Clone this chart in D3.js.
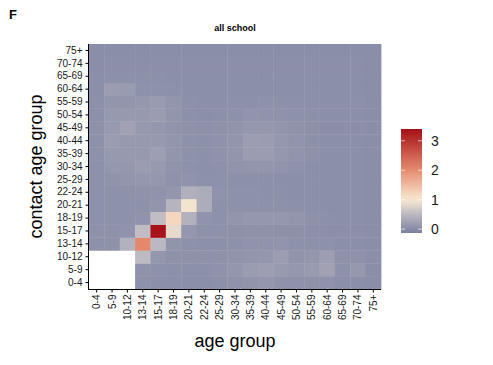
<!DOCTYPE html>
<html lang="en">
<head>
<meta charset="utf-8">
<script src="https://d3js.org/d3.v7.min.js"></script>
<style>
  body { margin: 0; background: #fff; }
  svg text { font-family: "Liberation Sans", Arial, sans-serif; }
</style>
</head>
<body>
<svg id="vis" width="493" height="365"></svg>
<script>
    // age groups (same for both axes)
    const ageGroups = ["0-4","5-9","10-12","13-14","15-17","18-19","20-21","22-24","25-29","30-34",
                       "35-39","40-44","45-49","50-54","55-59","60-64","65-69","70-74","75+"];

    // one row per contact age group (0-4 first), columns = participant age group
    const contactRows = [
        [null,null,null,0.06,0.04,0.04,0.04,0.04,0.05,0.07,0.10,0.12,0.07,0.07,0.06,0.07,0.04,0.04,0.03],
        [null,null,null,0.07,0.06,0.05,0.05,0.05,0.07,0.12,0.18,0.21,0.16,0.13,0.16,0.24,0.06,0.14,0.03],
        [null,null,null,0.52,0.12,0.06,0.06,0.06,0.06,0.09,0.11,0.12,0.20,0.10,0.12,0.21,0.06,0.06,0.03],
        [0.06,0.06,0.42,2.05,0.50,0.10,0.06,0.05,0.05,0.06,0.08,0.08,0.09,0.06,0.05,0.06,0.04,0.04,0.03],
        [0.06,0.06,0.08,0.55,3.35,0.85,0.12,0.06,0.06,0.05,0.06,0.06,0.05,0.05,0.04,0.04,0.04,0.04,0.03],
        [0.06,0.06,0.06,0.08,0.55,1.20,0.42,0.08,0.06,0.11,0.13,0.13,0.13,0.11,0.06,0.05,0.04,0.04,0.03],
        [0.06,0.06,0.06,0.06,0.11,0.45,0.95,0.36,0.06,0.06,0.06,0.06,0.06,0.05,0.04,0.04,0.04,0.04,0.03],
        [0.06,0.06,0.06,0.07,0.08,0.12,0.40,0.36,0.08,0.06,0.06,0.05,0.05,0.04,0.04,0.04,0.04,0.04,0.03],
        [0.06,0.08,0.11,0.13,0.13,0.07,0.08,0.06,0.06,0.05,0.05,0.05,0.04,0.04,0.04,0.04,0.04,0.04,0.03],
        [0.06,0.13,0.13,0.19,0.15,0.08,0.06,0.05,0.06,0.09,0.11,0.11,0.09,0.06,0.04,0.04,0.04,0.04,0.03],
        [0.06,0.15,0.15,0.15,0.21,0.11,0.06,0.05,0.07,0.11,0.19,0.19,0.13,0.09,0.06,0.04,0.04,0.04,0.03],
        [0.06,0.19,0.15,0.15,0.15,0.11,0.06,0.05,0.07,0.11,0.20,0.19,0.13,0.09,0.05,0.04,0.04,0.04,0.03],
        [0.06,0.15,0.24,0.15,0.13,0.08,0.06,0.05,0.06,0.09,0.13,0.13,0.11,0.07,0.05,0.04,0.04,0.04,0.03],
        [0.05,0.15,0.15,0.15,0.19,0.11,0.05,0.04,0.05,0.06,0.09,0.08,0.07,0.06,0.05,0.04,0.04,0.04,0.03],
        [0.05,0.11,0.11,0.13,0.17,0.11,0.05,0.04,0.04,0.05,0.05,0.06,0.05,0.05,0.04,0.04,0.04,0.05,0.03],
        [0.04,0.19,0.17,0.06,0.06,0.05,0.04,0.04,0.04,0.04,0.04,0.04,0.04,0.04,0.04,0.04,0.04,0.04,0.03],
        [0.04,0.05,0.05,0.05,0.05,0.04,0.04,0.04,0.04,0.04,0.04,0.04,0.04,0.04,0.04,0.04,0.04,0.04,0.03],
        [0.03,0.04,0.04,0.04,0.04,0.04,0.04,0.04,0.04,0.04,0.04,0.04,0.04,0.04,0.04,0.04,0.04,0.04,0.03],
        [0.03,0.03,0.03,0.03,0.03,0.03,0.03,0.03,0.03,0.03,0.03,0.03,0.03,0.03,0.03,0.03,0.03,0.03,0.03]
    ];

    const legendTicks = [0, 1, 2, 3];
    const colorStops  = [-0.13, 0.5, 1.0, 2.0, 3.4];
    const colorRange  = ["#7b80a0", "#bbb8c1", "#f9e9d2", "#e58c70", "#a50f15"];

    const svg = d3.select("#vis");

    const pLeft = 89, pRight = 381, pTop = 44, pBottom = 289;

    const x = d3.scaleBand().domain(ageGroups).range([pLeft, pRight]).padding(0);
    const y = d3.scaleBand().domain(ageGroups).range([pBottom, pTop]).padding(0);
    const color = d3.scaleLinear().domain(colorStops).range(colorRange).clamp(true);

    // tiles
    let cells = [];
    contactRows.forEach((row, j) => {
        row.forEach((v, i) => {
            cells.push({ age: ageGroups[i], contact: ageGroups[j], value: v });
        });
    });

    svg.append("g")
        .selectAll("rect")
        .data(cells.filter(d => d.value !== null))
        .enter()
        .append("rect")
        .attr("x", d => x(d.age))
        .attr("y", d => y(d.contact))
        .attr("width", x.bandwidth() + 0.4)
        .attr("height", y.bandwidth() + 0.4)
        .attr("fill", d => color(d.value));

    // axes
    const xAxis = svg.append("g")
        .attr("transform", "translate(0," + (pBottom + 0.5) + ")")
        .call(d3.axisBottom(x).tickSize(3).tickSizeOuter(0));
    xAxis.select(".domain").attr("d", "M" + (pLeft - 1) + ",0H" + pRight);
    xAxis.selectAll("text")
        .attr("transform", "rotate(-90)")
        .attr("x", -5).attr("y", 0).attr("dy", "0.35em")
        .style("text-anchor", "end")
        .style("font-size", "10px")
        .attr("fill", "#1a1a1a");

    const yAxis = svg.append("g")
        .attr("transform", "translate(" + (pLeft - 0.5) + ",0)")
        .call(d3.axisLeft(y).tickSize(3).tickSizeOuter(0));
    yAxis.select(".domain").attr("d", "M0," + pTop + "V" + (pBottom + 1));
    yAxis.selectAll("text")
        .attr("x", -6)
        .style("font-size", "10px")
        .attr("fill", "#1a1a1a");

    // titles
    svg.append("text").attr("x", 9).attr("y", 19)
        .style("font-size", "13px").style("font-weight", "bold").text("F");

    svg.append("text").attr("x", (pLeft + pRight) / 2).attr("y", 31)
        .attr("text-anchor", "middle")
        .style("font-size", "9px").style("font-weight", "bold").text("all school");

    svg.append("text").attr("x", (pLeft + pRight) / 2).attr("y", 347)
        .attr("text-anchor", "middle")
        .style("font-size", "18px").text("age group");

    svg.append("text")
        .attr("transform", "translate(42," + ((pTop + pBottom) / 2) + ") rotate(-90)")
        .attr("text-anchor", "middle")
        .style("font-size", "18px").text("contact age group");

    // legend colour bar
    const lx = 401, lw = 21, ltop = 129, lbot = 233;
    const ly = d3.scaleLinear().domain([colorStops[0], colorStops[colorStops.length - 1]]).range([lbot, ltop]);

    const grad = svg.append("defs").append("linearGradient")
        .attr("id", "lg").attr("x1", 0).attr("y1", 1).attr("x2", 0).attr("y2", 0);
    d3.range(0, 21).forEach(k => {
        const v = colorStops[0] + (colorStops[colorStops.length - 1] - colorStops[0]) * k / 20;
        grad.append("stop").attr("offset", (k / 20)).attr("stop-color", color(v));
    });
    svg.append("rect").attr("x", lx).attr("y", ltop).attr("width", lw).attr("height", lbot - ltop)
        .attr("fill", "url(#lg)");

    const lg = svg.append("g");
    legendTicks.forEach(t => {
        const yy = ly(t);
        lg.append("line").attr("x1", lx).attr("x2", lx + 4).attr("y1", yy).attr("y2", yy)
            .attr("stroke", "#fff").attr("stroke-width", 0.8).attr("opacity", 0.8);
        lg.append("line").attr("x1", lx + lw - 4).attr("x2", lx + lw).attr("y1", yy).attr("y2", yy)
            .attr("stroke", "#fff").attr("stroke-width", 0.8).attr("opacity", 0.8);
        lg.append("text").attr("x", lx + lw + 9).attr("y", yy).attr("dy", "0.36em")
            .style("font-size", "14px").attr("fill", "#1a1a1a").text(t);
    });
</script>
</body>
</html>
